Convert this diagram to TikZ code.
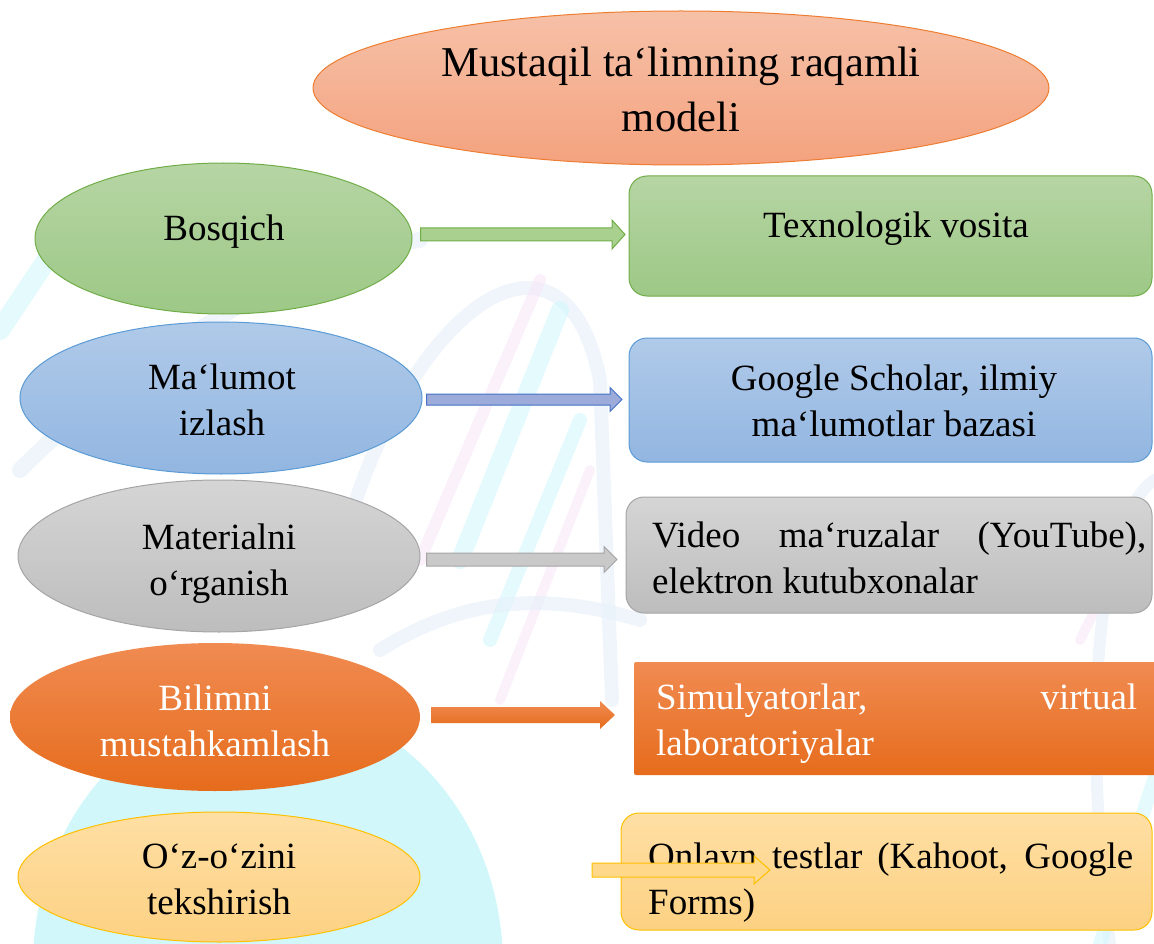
\documentclass[tikz,border=0pt]{standalone}
\usepackage{fontspec}
\setmainfont{Liberation Serif}
\usetikzlibrary{shapes.geometric,calc}
\definecolor{tTop}{HTML}{F6C1A8}\definecolor{tBot}{HTML}{F4A27E}\definecolor{tLine}{HTML}{ED7D31}
\definecolor{gTop}{HTML}{B6D5A4}\definecolor{gBot}{HTML}{9DC886}\definecolor{gLine}{HTML}{70AD47}
\definecolor{bTop}{HTML}{B0CAE9}\definecolor{bBot}{HTML}{92B6E1}\definecolor{bLine}{HTML}{5B9BD5}
\definecolor{sTop}{HTML}{D5D5D5}\definecolor{sBot}{HTML}{BDBDBD}\definecolor{sLine}{HTML}{A5A5A5}
\definecolor{oTop}{HTML}{F08B52}\definecolor{oBot}{HTML}{E66C1C}\definecolor{oLine}{HTML}{EA7A32}
\definecolor{yTop}{HTML}{FEDFA4}\definecolor{yBot}{HTML}{FDD183}\definecolor{yLine}{HTML}{FFC000}
\definecolor{aBlue}{HTML}{9DABDA}\definecolor{aBlueL}{HTML}{4472C4}
\definecolor{wmCyan}{HTML}{D2F7FB}\definecolor{wmBlue}{HTML}{E6EFF9}\definecolor{wmPink}{HTML}{F7E8F8}
\newcommand\fatarrow[6]{% style, start, end, shaft half, head half, head length
  \draw[#1] let \p1=#2, \p2=#3 in
    (\x1,\y1+#4pt) -- (\x2-#6pt,\y1+#4pt) -- (\x2-#6pt,\y1+#5pt) -- (\x2,\y1)
    -- (\x2-#6pt,\y1-#5pt) -- (\x2-#6pt,\y1-#4pt) -- (\x1,\y1-#4pt) -- cycle;}
\begin{document}
\begin{tikzpicture}[x=1pt,y=-1pt,
  body/.style={font=\fontsize{37}{46}\selectfont, align=center, inner sep=0pt},
  ell/.style={ellipse, inner sep=0pt, line width=1pt},
  box/.style={rounded corners=18pt, line width=1pt},
  wm/.style={line cap=round, opacity=0.6},
]
\useasboundingbox (0,0) rectangle (1154,944);
% faint background watermark
\begin{scope}
  \clip (0,0) rectangle (1154,944);
  \fill[wmCyan] (268,965) ellipse [x radius=235pt, y radius=265pt];
  \draw[wmBlue, wm, line width=16pt] (20,470) .. controls (160,330) and (330,250) .. (420,240);
  \draw[wmBlue, wm, line width=14pt] (330,600) .. controls (380,330) and (560,180) .. (600,380) -- (612,700);
  \draw[wmCyan, wm, line width=18pt] (460,560) -- (560,310);
  \draw[wmCyan, wm, line width=14pt] (490,640) -- (580,420);
  \draw[wmPink, wm, line width=12pt] (420,560) -- (540,280);
  \draw[wmPink, wm, line width=10pt] (500,700) -- (590,470);
  \draw[wmBlue, wm, line width=14pt] (380,650) .. controls (460,600) and (540,590) .. (640,620);
  \draw[wmBlue, wm, line width=12pt] (1154,480) .. controls (1100,520) and (1080,700) .. (1110,944);
  \draw[wmPink, wm, line width=10pt] (1080,640) -- (1130,540);
  \draw[wmCyan, wm, line width=14pt] (1100,944) -- (1154,780);
  \draw[wmCyan, wm, line width=20pt] (0,330) -- (60,240);
\end{scope}

% title
\node[ell, minimum width=736pt, minimum height=154pt, top color=tTop, bottom color=tBot, draw=tLine] (e0) at (681,88) {};
\node[font=\fontsize{42.5}{55}\selectfont, align=center, inner sep=0pt] (t0) at (681,93.5)
  {\strut Mustaqil ta‘limning raqamli\\\strut modeli};

% left ellipses
\node[ell, minimum width=377pt, minimum height=151pt, top color=gTop, bottom color=gBot, draw=gLine] (e1) at (223.5,238.5) {};
\node[body] (t1) at (224,231) {\strut Bosqich};
\node[ell, minimum width=402pt, minimum height=152pt, top color=bTop, bottom color=bBot, draw=bLine] (e2) at (221,398) {};
\node[body] (t2) at (222,403) {\strut Ma‘lumot\\\strut izlash};
\node[ell, minimum width=402pt, minimum height=152pt, top color=sTop, bottom color=sBot, draw=sLine] (e3) at (219,556) {};
\node[body] (t3) at (219,563) {\strut Materialni\\\strut o‘rganish};
\node[ell, minimum width=410pt, minimum height=148pt, top color=oTop, bottom color=oBot] (e4) at (215,717) {};
\node[body, text=white] (t4) at (215,724.5) {\strut Bilimni\\\strut mustahkamlash};
\node[ell, minimum width=402pt, minimum height=130pt, top color=yTop, bottom color=yBot, draw=yLine] (e5) at (219,877) {};
\node[body] (t5) at (219,882) {\strut O‘z-o‘zini\\\strut tekshirish};

% right boxes
\draw[box, top color=gTop, bottom color=gBot, draw=gLine] (629,176) rectangle (1152,296);
\coordinate (b1) at (629,236);
\node[body] (u1) at (896,228) {\strut Texnologik vosita};
\draw[box, top color=bTop, bottom color=bBot, draw=bLine] (629,338) rectangle (1152,462);
\coordinate (b2) at (629,400);
\node[body] (u2) at (894,404) {\strut Google Scholar, ilmiy\\\strut ma‘lumotlar bazasi};
\draw[box, top color=sTop, bottom color=sBot, draw=sLine] (626,497) rectangle (1152,613);
\coordinate (b3) at (626,555);
\node[body, align=left, anchor=west] (u3) at (652,561)
  {\makebox[494pt][s]{\strut Video ma‘ruzalar (YouTube),}\\\makebox[494pt][l]{\strut elektron kutubxonalar}};
\draw[rounded corners=2pt, top color=oTop, bottom color=oBot, draw=none] (634,662) rectangle (1156,775);
\coordinate (b4) at (634,718);
\node[body, align=left, anchor=west, text=white] (u4) at (656,723)
  {\makebox[481pt][s]{\strut Simulyatorlar, \hfill virtual}\\\makebox[481pt][l]{\strut laboratoriyalar}};
\draw[box, top color=yTop, bottom color=yBot, draw=yLine] (621,813) rectangle (1152,930);
\coordinate (b5) at (621,871);
\node[body, align=left, anchor=west] (u5) at (648,882)
  {\makebox[485pt][s]{\strut Onlayn testlar (Kahoot, Google}\\\makebox[485pt][l]{\strut Forms)}};

% block arrows
\fatarrow{fill={rgb,255:red,169;green,208;blue,142}, draw=gLine, line width=1pt}{($(e1.east)+(8,-4)$)}{($(b1)+(-4,0)$)}{6.5}{14.5}{13}
\fatarrow{fill=aBlue, draw=aBlueL, line width=1pt}{($(e2.east)+(4,1.5)$)}{($(b2)+(-7,0)$)}{5.5}{12}{12}
\fatarrow{fill={rgb,255:red,201;green,201;blue,201}, draw=sLine, line width=1pt}{($(e3.east)+(6,3.5)$)}{($(b3)+(-9,0)$)}{6.5}{13}{13}
\fatarrow{top color=oTop, bottom color=oBot, draw=none}{($(e4.east)+(11,-2)$)}{($(b4)+(-19,0)$)}{8}{14}{15}
\fatarrow{fill={rgb,255:red,255;green,216;blue,138}, draw=yLine, line width=1pt}{($(b5)+(-29,-1)$)}{($(b5)+(149,0)$)}{7}{14}{16}
\end{tikzpicture}
\end{document}
